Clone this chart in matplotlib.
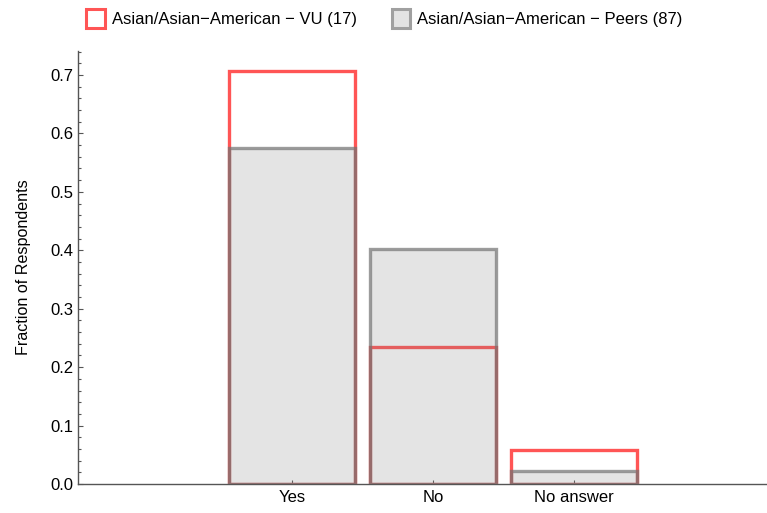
import matplotlib
matplotlib.use("Agg")
import matplotlib.pyplot as plt
from matplotlib.patches import Patch
from matplotlib.ticker import MultipleLocator, FormatStrFormatter

plt.rcParams['font.family'] = ['Liberation Sans', 'DejaVu Sans']

categories = ["Yes", "No", "No answer"]
vu_values = [0.706, 0.235, 0.059]
peer_values = [0.575, 0.402, 0.023]
vu_label = "Asian/Asian\u2212American \u2212 VU (17)"
peer_label = "Asian/Asian\u2212American \u2212 Peers (87)"

red = "#ff5555"
gray_face = (0.5, 0.5, 0.5, 0.21)
gray_edge = (0.45, 0.45, 0.45, 0.7)
axis_col = "#555555"
fs = 12

fig = plt.figure(figsize=(7.67, 5.13), dpi=100)
ax = fig.add_axes([78/767, 1-484/513, 1-78/767, (484-51)/513])

x = list(range(len(categories)))
w = 0.89
ax.bar(x, vu_values, width=w, facecolor="none", edgecolor=red, linewidth=2.4, zorder=2)
ax.bar(x, peer_values, width=w, facecolor=gray_face, edgecolor=gray_edge, linewidth=2.4, zorder=3)

ax.set_xlim(-1.518, 3.369)
ax.set_ylim(0, 0.741)
ax.set_xticks(x)
ax.set_xticklabels(categories)
ax.yaxis.set_major_locator(MultipleLocator(0.1))
ax.yaxis.set_minor_locator(MultipleLocator(0.02))
ax.yaxis.set_major_formatter(FormatStrFormatter('%.1f'))

for s in ["top", "right"]:
    ax.spines[s].set_visible(False)
for s in ["left", "bottom"]:
    ax.spines[s].set_color(axis_col)
    ax.spines[s].set_linewidth(1.0)

ax.tick_params(axis="y", which="major", direction="in", length=3.8, width=0.8, color=axis_col, labelsize=fs, pad=3.5)
ax.tick_params(axis="y", which="minor", direction="in", length=2.4, width=0.8, color=axis_col)
ax.tick_params(axis="x", which="major", direction="in", length=3.0, width=0.8, color=axis_col, labelsize=fs, pad=4.5)
ax.set_ylabel("Fraction of Respondents", fontsize=11.6, labelpad=14)

handles = [Patch(facecolor="white", edgecolor=red, linewidth=2.2, label=vu_label),
           Patch(facecolor="#e3e3e3", edgecolor="#a0a0a0", linewidth=2.2, label=peer_label)]
fig.legend(handles=handles, loc="upper left", bbox_to_anchor=(86/767, 1-9/513), ncol=2,
           frameon=False, fontsize=fs, handlelength=1.12, handleheight=1.35,
           handletextpad=0.42, columnspacing=2.1, borderpad=0, borderaxespad=0)

fig.savefig("out.png", dpi=100)
